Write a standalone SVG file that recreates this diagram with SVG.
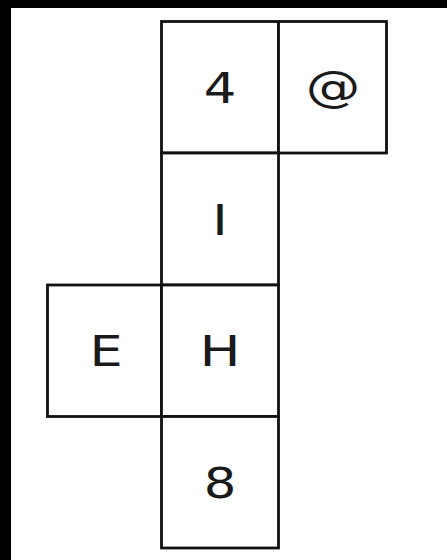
<svg xmlns="http://www.w3.org/2000/svg" width="447" height="560" viewBox="0 0 447 560">
<style>
.cell{fill:#fff;stroke:#111;stroke-width:2.8}
.lbl{font-family:"DejaVu Sans",Verdana,sans-serif;font-size:42px;fill:#1a1a1a;text-anchor:middle}
</style>
<rect x="0" y="0" width="447" height="560" fill="#000"/>
<rect x="11" y="8" width="436" height="552" fill="#fff"/>
<g id="cell-4"><rect class="cell" x="161.5" y="21.5" width="117" height="131.5"/><text class="lbl" transform="translate(220,103) scale(1.22,1)">4</text></g>
<g id="cell-at"><rect class="cell" x="278.5" y="21.5" width="108" height="131.5"/><text class="lbl" transform="translate(333,102) scale(1.3,1)">@</text></g>
<g id="cell-I"><rect class="cell" x="161.5" y="153" width="117" height="132"/><text class="lbl" transform="translate(220,235) scale(1.25,1)">I</text></g>
<g id="cell-E"><rect class="cell" x="47.5" y="285" width="114" height="131.5"/><text class="lbl" transform="translate(106,366) scale(1.25,1)">E</text></g>
<g id="cell-H"><rect class="cell" x="161.5" y="285" width="117" height="131.5"/><text class="lbl" transform="translate(220,366) scale(1.3,1)">H</text></g>
<g id="cell-8"><rect class="cell" x="161.5" y="416.5" width="117" height="131.5"/><text class="lbl" transform="translate(220,498) scale(1.22,1)">8</text></g>
<g id="connectors"/>
</svg>
